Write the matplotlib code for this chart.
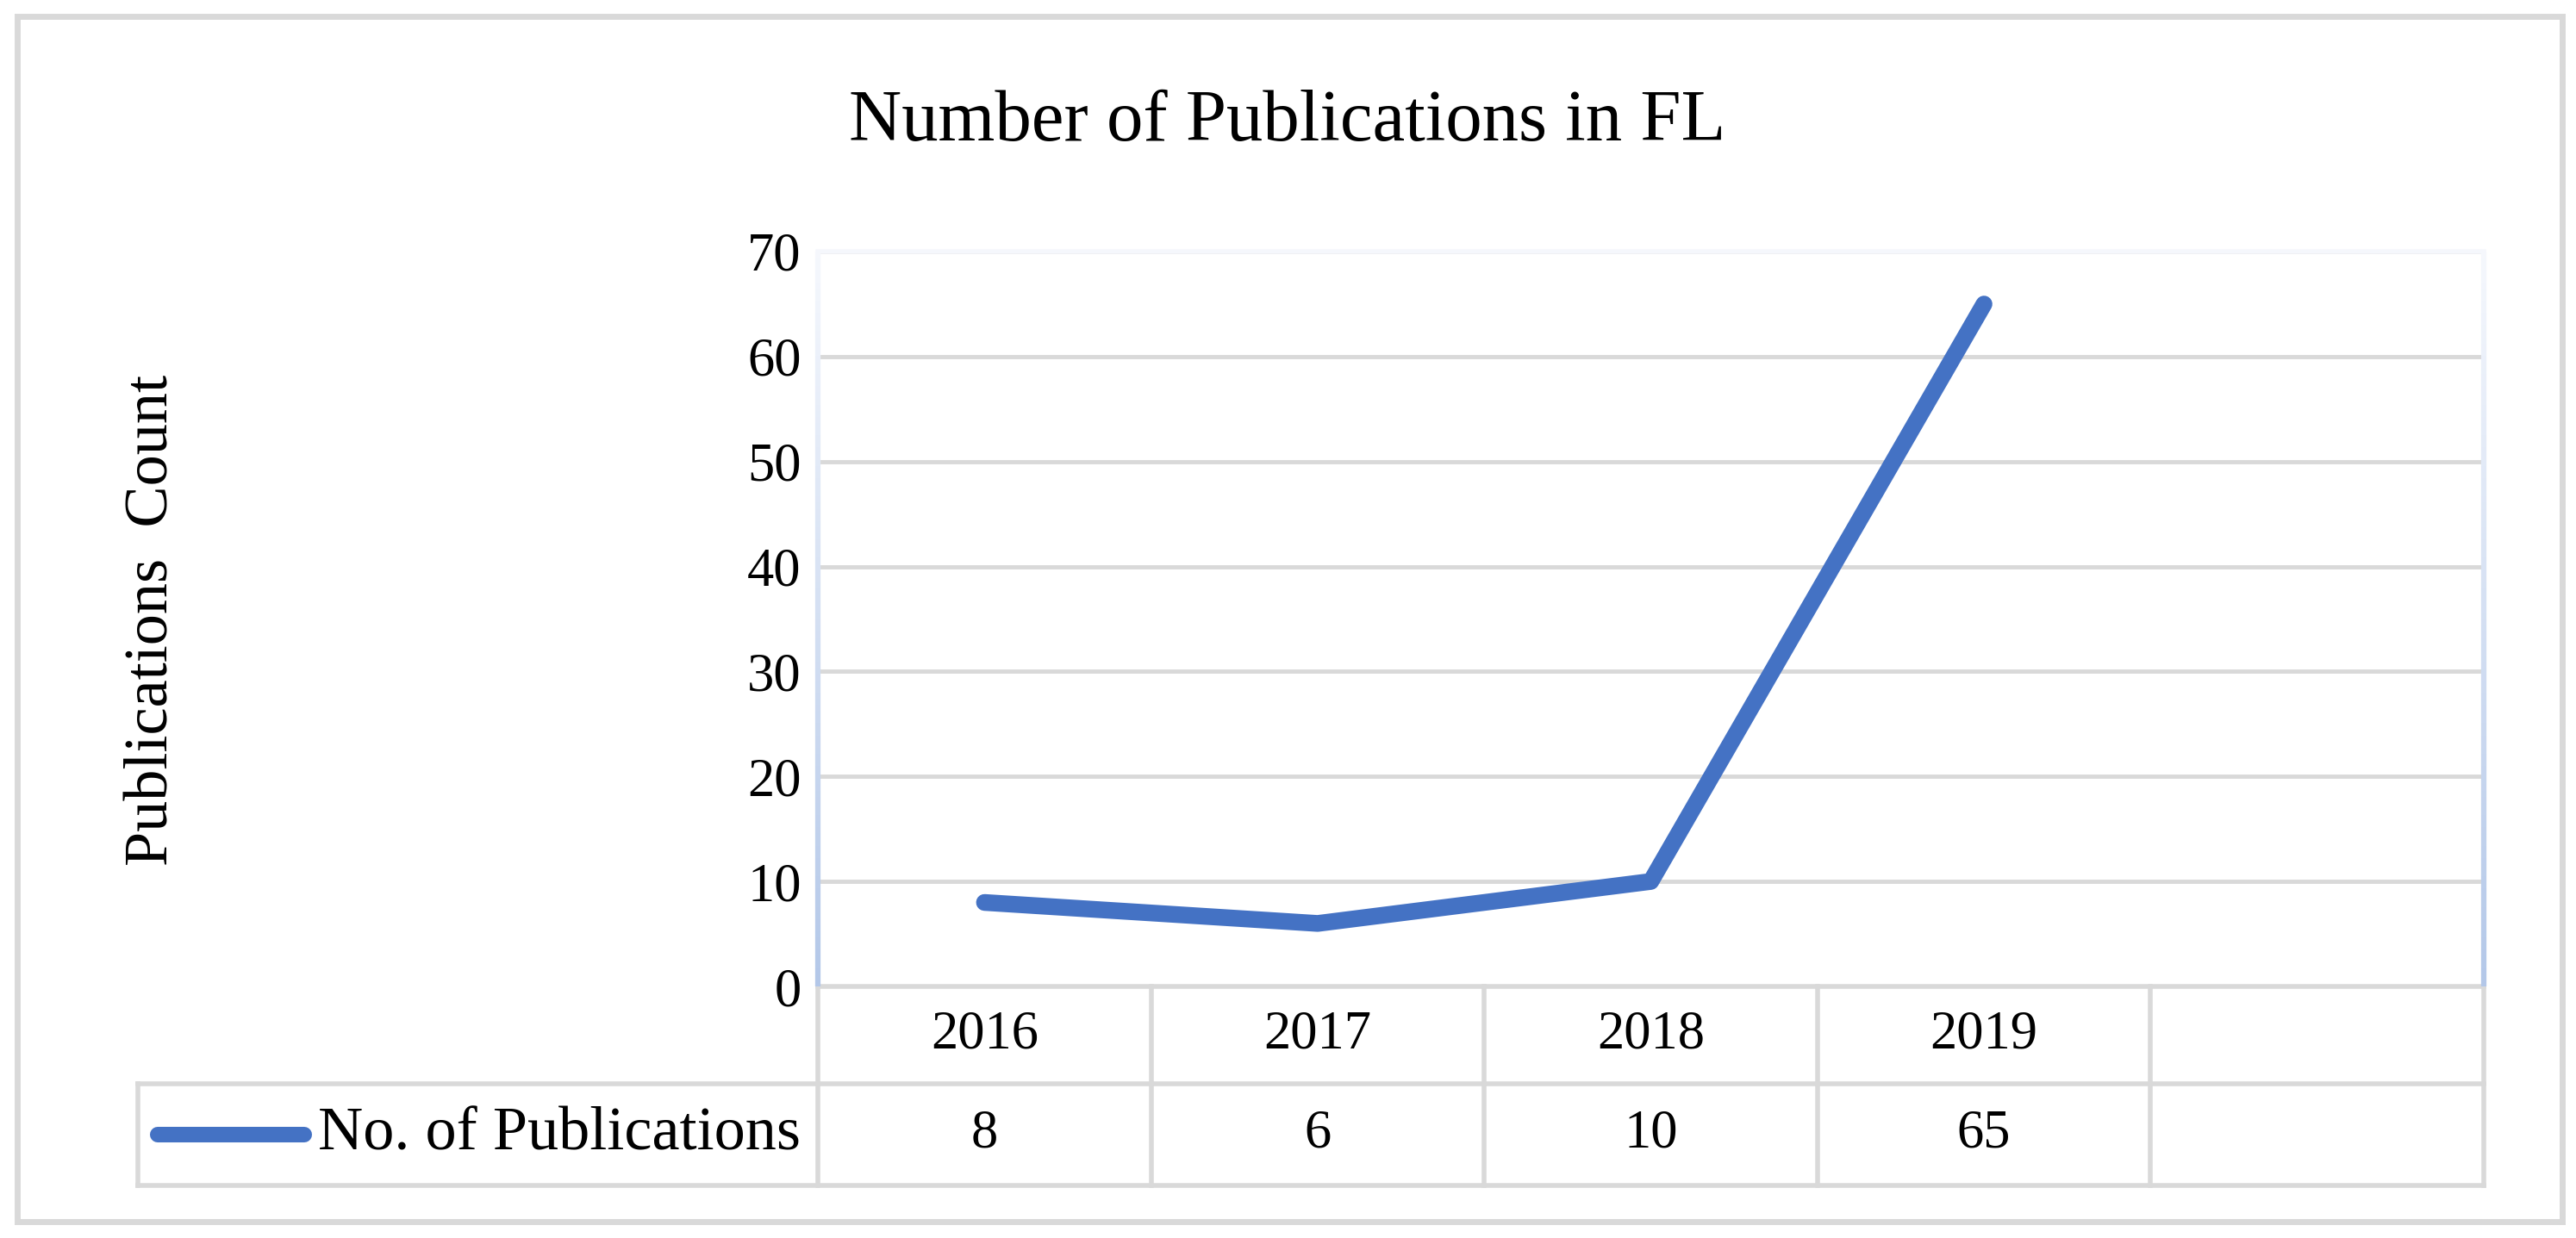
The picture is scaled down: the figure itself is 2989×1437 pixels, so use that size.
import matplotlib
matplotlib.use('Agg')
import matplotlib.pyplot as plt
from matplotlib.lines import Line2D
from matplotlib.collections import LineCollection
import numpy as np

# data
years = ['2016', '2017', '2018', '2019']
pubs = [8, 6, 10, 65]
series_name = 'No. of Publications'
n_slots = 5  # Excel keeps one empty category on the right
yticks = [0, 10, 20, 30, 40, 50, 60, 70]

W, H = 2989, 1437
DPI = 100
blue = '#4472C4'
gray = '#D9D9D9'
font = 'Liberation Serif'
fs = 45       # numbers
fs_word = 52  # words (Palatino is wider than Times, so a bit bigger)

plt.rcParams['font.family'] = [font, 'DejaVu Serif']

fig = plt.figure(figsize=(W / DPI, H / DPI), dpi=DPI)

def fx(px):
    return px / W

def fy(py):
    return 1 - py / H

# plot area in pixels
L, R, T, B = 949, 2882, 292, 1145
row1, row2 = 1258, 1376
leg_left = 160

ax = fig.add_axes([fx(L), fy(B), fx(R) - fx(L), fy(T) - fy(B)])
ax.set_xlim(-0.5, n_slots - 0.5)
ax.set_ylim(0, 70)
for s in ax.spines.values():
    s.set_visible(False)
ax.set_xticks([])
ax.set_yticks(yticks)
ax.tick_params(axis='y', length=0, pad=14, labelsize=fs)
ax.yaxis.grid(True, color=gray, linewidth=3.5)
ax.set_axisbelow(True)

x = np.arange(len(pubs))
ax.plot(x, pubs, color=blue, linewidth=14, solid_capstyle='round',
        solid_joinstyle='round', zorder=5)

# gradient border of the plot area (Excel style)
n = 120
ys = np.linspace(70, 0, n + 1)
c_top = np.array([0.96, 0.97, 0.99])
c_bot = np.array([0.70, 0.78, 0.91])
cols = [c_top + (c_bot - c_top) * (i / n) for i in range(n)]
for xe in (-0.5, n_slots - 0.5):
    segs = [[(xe, ys[i]), (xe, ys[i + 1])] for i in range(n)]
    ax.add_collection(LineCollection(segs, colors=cols, linewidths=4.5,
                                     clip_on=False, zorder=3))
ax.plot([-0.5, n_slots - 0.5], [70, 70], color=c_top, linewidth=4,
        clip_on=False, zorder=3)

# data table below the axis
tr = ax.get_xaxis_transform()
y_r1 = (B - row1) / (B - T)
y_r2 = (B - row2) / (B - T)
y_top = 0.0
x_leg = -0.5 - (L - leg_left) / ((R - L) / n_slots)

tab_kw = dict(color=gray, linewidth=4, transform=tr, clip_on=False, zorder=2)
ax.add_line(Line2D([-0.5, n_slots - 0.5], [y_top, y_top], **tab_kw))
ax.add_line(Line2D([x_leg, n_slots - 0.5], [y_r1, y_r1], **tab_kw))
ax.add_line(Line2D([x_leg, n_slots - 0.5], [y_r2, y_r2], **tab_kw))
for i in range(n_slots + 1):
    ax.add_line(Line2D([i - 0.5, i - 0.5], [y_top, y_r2], **tab_kw))
ax.add_line(Line2D([x_leg, x_leg], [y_r1, y_r2], **tab_kw))

for i, yr in enumerate(years):
    ax.text(i, (y_top + y_r1) / 2, yr, transform=tr, ha='center', va='center',
            fontsize=fs)
for i, v in enumerate(pubs):
    ax.text(i, (y_r1 + y_r2) / 2, str(v), transform=tr, ha='center',
            va='center', fontsize=fs)

# legend key inside the table
y_mid = (y_r1 + y_r2) / 2
ax.add_line(Line2D([x_leg + 0.06, x_leg + 0.5], [y_mid, y_mid], color=blue,
                   linewidth=13, solid_capstyle='round', transform=tr,
                   clip_on=False))
ax.text(x_leg + 0.54, y_mid, series_name, transform=tr, ha='left',
        va='center', fontsize=fs_word)

# titles
fig.text(fx(1494), fy(143), 'Number of Publications in FL', ha='center',
         va='center', fontsize=61)
fig.text(fx(177), fy(720), 'Publications  Count', rotation=90, ha='center',
         va='center', fontsize=fs_word)

# outer chart border
fig.add_artist(plt.Rectangle((fx(20), fy(1418)), fx(2973) - fx(20),
                             fy(19) - fy(1418), transform=fig.transFigure,
                             fill=False, edgecolor=gray, linewidth=5))

plt.savefig('out.png', dpi=DPI, facecolor='white')
